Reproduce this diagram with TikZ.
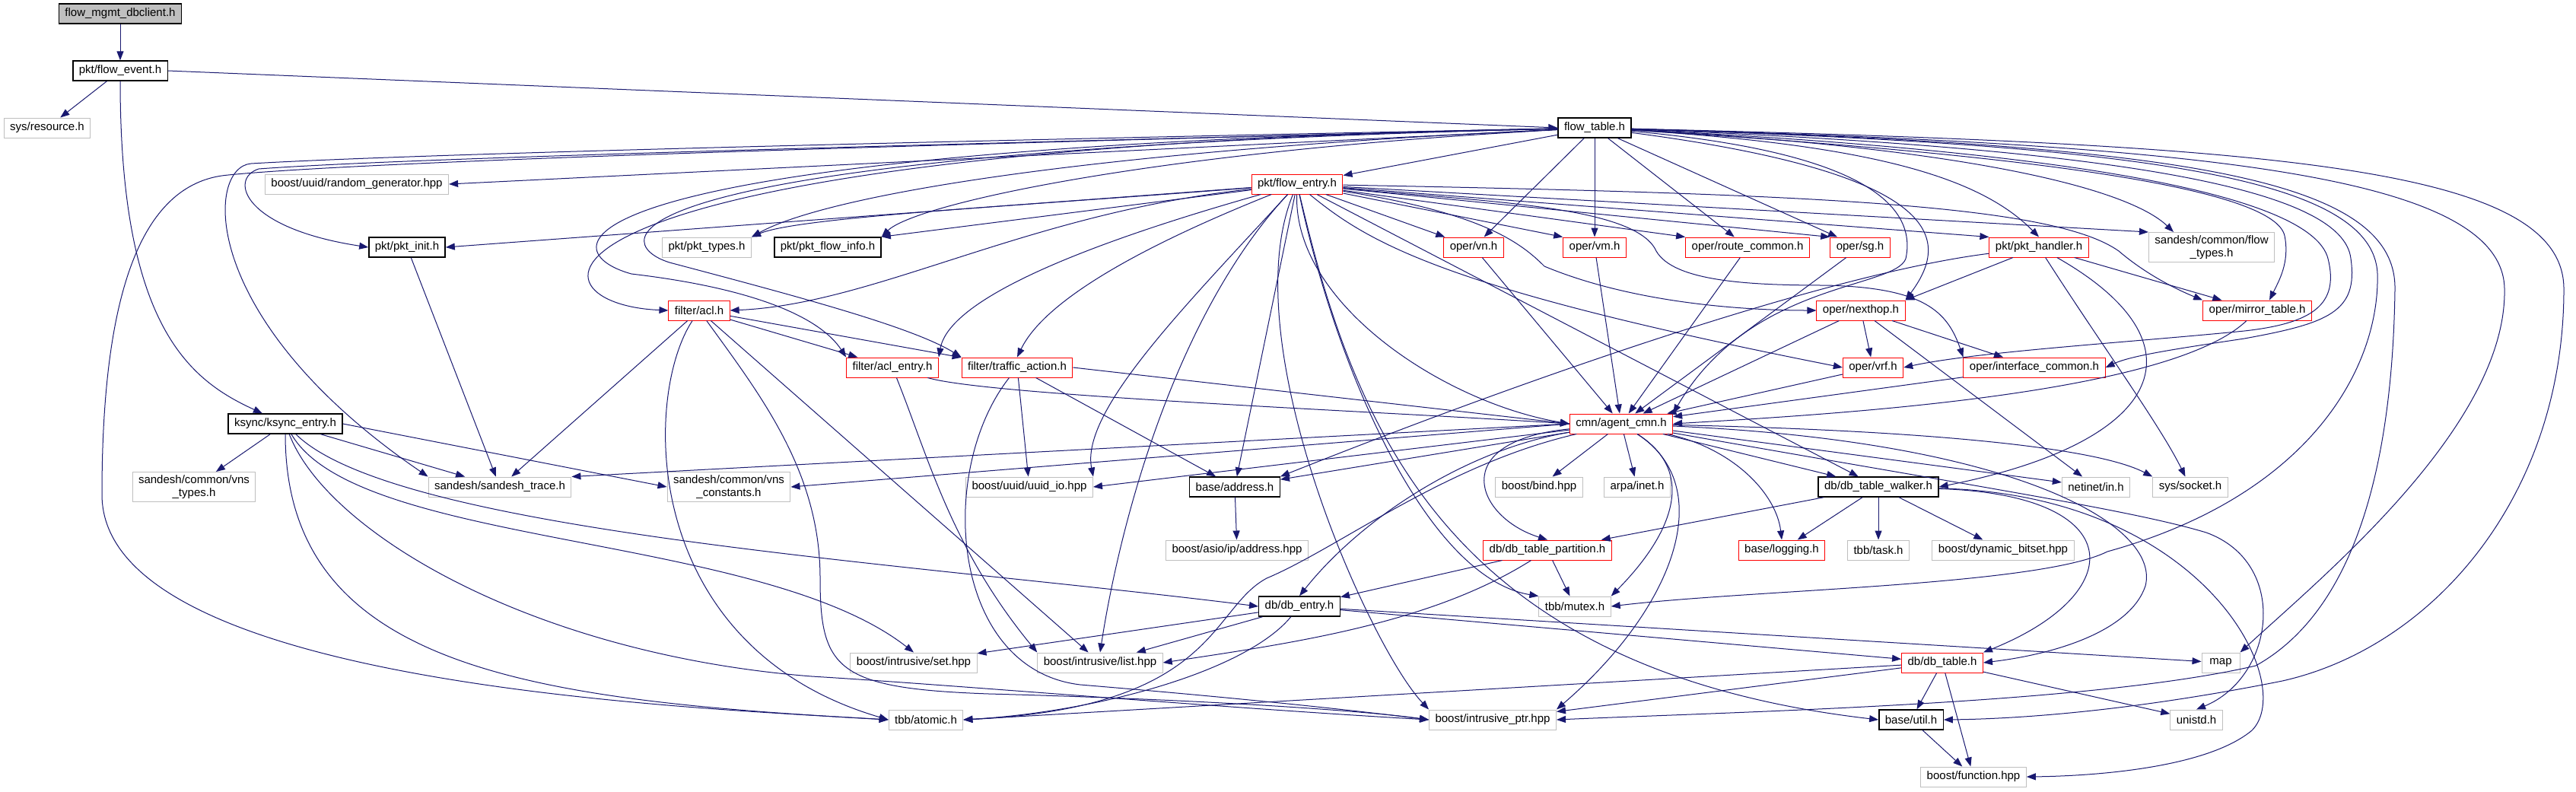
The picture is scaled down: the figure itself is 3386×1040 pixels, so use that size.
\documentclass[tikz,border=0pt]{standalone}
\usepackage{fontspec}
\setmainfont{Liberation Sans}
\usepackage{tikz}
\usetikzlibrary{arrows.meta}

\definecolor{incblue}{HTML}{191970}
\definecolor{extgray}{HTML}{BFBFBF}
\definecolor{truncred}{HTML}{FF0000}

\begin{document}
\begin{tikzpicture}[x=0.5pt, y=-0.5pt,
  hdr/.style={draw, rectangle, inner xsep=4pt, inner ysep=2pt,
    minimum height=13pt, minimum width=25pt, align=center,
    font=\fontsize{7.5}{8.5}\selectfont, line width=0.5pt},
  doc/.style={hdr, draw=black, line width=0.7pt},
  ext/.style={hdr, draw=extgray},
  trunc/.style={hdr, draw=truncred},
  rootbox/.style={hdr, draw=black, fill=extgray, line width=0.7pt},
  inc/.style={-{Triangle[length=6pt,width=4.5pt]}, draw=incblue,
    line width=0.5pt}
]
\path[fill=white, use as bounding box] (0,0) rectangle (3386,1040);

% header nodes, one row at a time
\node[rootbox] (root) at (158,18) {flow\_mgmt\_dbclient.h};
\node[doc] (fevent) at (158,93) {pkt/flow\_event.h};
\node[ext] (sysres) at (62,168) {sys/resource.h};
\node[doc] (ftable) at (2096,168) {flow\_table.h};
\node[ext] (randgen) at (469,242) {boost/uuid/random\_generator.hpp};
\node[trunc] (fentry) at (1705,242) {pkt/flow\_entry.h};
\node[doc] (pktinit) at (535,325) {pkt/pkt\_init.h};
\node[ext] (pkttypes) at (929,325) {pkt/pkt\_types.h};
\node[doc] (flowinfo) at (1088,325) {pkt/pkt\_flow\_info.h};
\node[trunc] (vn) at (1937,325) {oper/vn.h};
\node[trunc] (vm) at (2096,325) {oper/vm.h};
\node[trunc] (routecmn) at (2297,325) {oper/route\_common.h};
\node[trunc] (sg) at (2445,325) {oper/sg.h};
\node[trunc] (pkthandler) at (2680,325) {pkt/pkt\_handler.h};
\node[ext] (flowtypes) at (2907,325) {sandesh/common/flow\\\_types.h};
\node[trunc] (acl) at (919,408) {filter/acl.h};
\node[trunc] (nexthop) at (2446,408) {oper/nexthop.h};
\node[trunc] (mirror) at (2967,408) {oper/mirror\_table.h};
\node[trunc] (aclentry) at (1173,483) {filter/acl\_entry.h};
\node[trunc] (traffic) at (1337,483) {filter/traffic\_action.h};
\node[trunc] (vrf) at (2462,483) {oper/vrf.h};
\node[trunc] (intfcmn) at (2674,483) {oper/interface\_common.h};
\node[doc] (ksync) at (375,557) {ksync/ksync\_entry.h};
\node[trunc] (agentcmn) at (2131,557) {cmn/agent\_cmn.h};
\node[ext] (vnstypes) at (255,640) {sandesh/common/vns\\\_types.h};
\node[ext] (sdtrace) at (657,640) {sandesh/sandesh\_trace.h};
\node[ext] (vnsconst) at (958,640) {sandesh/common/vns\\\_constants.h};
\node[ext] (uuidio) at (1353,640) {boost/uuid/uuid\_io.hpp};
\node[doc] (address) at (1623,640) {base/address.h};
\node[ext] (bind) at (2023,640) {boost/bind.hpp};
\node[ext] (arpa) at (2152,640) {arpa/inet.h};
\node[doc] (walker) at (2469,640) {db/db\_table\_walker.h};
\node[ext] (netinet) at (2755,640) {netinet/in.h};
\node[ext] (socket) at (2879,640) {sys/socket.h};
\node[ext] (asio) at (1626,723) {boost/asio/ip/address.hpp};
\node[trunc] (partition) at (2034,723) {db/db\_table\_partition.h};
\node[trunc] (logging) at (2342,723) {base/logging.h};
\node[ext] (task) at (2469,723) {tbb/task.h};
\node[ext] (bitset) at (2633,723) {boost/dynamic\_bitset.hpp};
\node[doc] (dbentry) at (1708,797) {db/db\_entry.h};
\node[ext] (mutex) at (2070,797) {tbb/mutex.h};
\node[ext] (iset) at (1201,871) {boost/intrusive/set.hpp};
\node[ext] (ilist) at (1446,871) {boost/intrusive/list.hpp};
\node[trunc] (dbtable) at (2553,871) {db/db\_table.h};
\node[ext] (map) at (2919,871) {map};
\node[ext] (atomic) at (1217,946) {tbb/atomic.h};
\node[ext] (iptr) at (1962,946) {boost/intrusive\_ptr.hpp};
\node[doc] (util) at (2512,946) {base/util.h};
\node[ext] (unistd) at (2887,946) {unistd.h};
\node[ext] (function) at (2594,1021) {boost/function.hpp};

% top of the graph
\draw[inc] (root) -- (fevent);
\draw[inc] (fevent) -- (sysres);
\draw[inc] (fevent.east) -- (ftable.west);
\draw[inc] (fevent) .. controls (158,430) and (250,500) .. (ksync);

% flow_table.h, left side
\draw[inc] (ftable) -- (fentry);
\draw[inc] (ftable) -- (randgen.east);
\draw[inc] (ftable) .. controls (1000,195) and (500,210) .. (340,222)
  .. controls (300,235) and (320,300) .. (pktinit.west);
\draw[inc] (ftable) .. controls (1400,200) and (1080,260) .. (pkttypes.north east);
\draw[inc] (ftable) .. controls (1500,200) and (1200,270) .. (flowinfo.north east);
\draw[inc] (ftable) .. controls (640,195) and (680,400) .. (acl.west);
\draw[inc] (ftable) .. controls (700,195) and (720,330) .. (830,360)
  .. controls (1000,380) and (1080,420) .. (aclentry.north west);
\draw[inc] (ftable) .. controls (760,200) and (800,320) .. (880,345)
  .. controls (1050,390) and (1200,430) .. (traffic.north west);
\draw[inc] (ftable) .. controls (1000,190) and (500,205) .. (330,215)
  .. controls (270,220) and (260,420) .. (sdtrace.north west);
\draw[inc] (ftable) .. controls (1000,195) and (450,215) .. (300,230)
  .. controls (180,240) and (134,400) .. (134,650)
  .. controls (134,900) and (900,930) .. (atomic.west);

% flow_table.h, middle and right side
\draw[inc] (ftable) -- (vn);
\draw[inc] (ftable) -- (vm);
\draw[inc] (ftable) -- (routecmn);
\draw[inc] (ftable) -- (sg);
\draw[inc] (ftable) .. controls (2450,190) and (2600,230) .. (pkthandler.north);
\draw[inc] (ftable) .. controls (2600,195) and (2800,250) .. ([xshift=-25pt]flowtypes.north);
\draw[inc] (ftable) .. controls (2700,205) and (2990,250) .. (3003,310)
  .. controls (3010,345) and (2995,370) .. ([xshift=8pt]mirror.north);
\draw[inc] (ftable) .. controls (2570,230) and (2560,320) .. (nexthop.north east);
\draw[inc] (ftable) .. controls (2450,200) and (2520,270) .. (2505,340)
  .. controls (2490,380) and (2300,370) .. (agentcmn.north east);
\draw[inc] (ftable) .. controls (2750,200) and (3040,260) .. (3060,340)
  .. controls (3075,400) and (3040,425) .. (2950,435)
  .. controls (2800,450) and (2600,462) .. (vrf.east);
\draw[inc] (ftable) .. controls (2800,195) and (3080,250) .. (3090,340)
  .. controls (3100,410) and (3060,425) .. (2950,445)
  .. controls (2850,460) and (2800,468) .. (intfcmn.east);
\draw[inc] (ftable) .. controls (2800,190) and (3120,230) .. (3125,360)
  .. controls (3128,480) and (3040,650) .. (2770,725)
  .. controls (2680,770) and (2300,775) .. (mutex.east);
\draw[inc] (ftable) .. controls (2850,190) and (3150,230) .. (3148,380)
  .. controls (3145,600) and (3100,800) .. (2965,875)
  .. controls (2750,925) and (2300,935) .. (iptr.east);
\draw[inc] (ftable) .. controls (2900,190) and (3290,230) .. (3292,380)
  .. controls (3295,560) and (3050,760) .. (map.north east);
\draw[inc] (ftable) .. controls (3000,190) and (3370,220) .. (3370,380)
  .. controls (3370,650) and (3200,850) .. (3000,895)
  .. controls (2800,935) and (2650,945) .. (util.east);

% pkt/flow_entry.h
\draw[inc] (fentry) -- (pktinit.east);
\draw[inc] (fentry) .. controls (1350,270) and (1050,285) .. (pkttypes.north east);
\draw[inc] (fentry) -- (flowinfo.north east);
\draw[inc] (fentry) .. controls (1350,280) and (1150,400) .. (acl.east);
\draw[inc] (fentry) .. controls (1500,300) and (1250,380) .. (aclentry.north east);
\draw[inc] (fentry) .. controls (1560,300) and (1380,380) .. (traffic.north);
\draw[inc] (fentry) -- (vn);
\draw[inc] (fentry) -- (vm.north west);
\draw[inc] (fentry) -- (routecmn.north west);
\draw[inc] (fentry) -- (sg.north west);
\draw[inc] (fentry) -- (pkthandler.north west);
\draw[inc] (fentry) -- (flowtypes.north west);
\draw[inc] (fentry) .. controls (2400,255) and (2700,270) .. (2785,330)
  .. controls (2820,360) and (2860,380) .. (mirror.north west);
\draw[inc] (fentry) .. controls (1950,280) and (2000,320) .. (2030,350)
  .. controls (2150,400) and (2300,408) .. (nexthop.west);
\draw[inc] (fentry) .. controls (1800,320) and (1900,380) .. (vrf.west);
\draw[inc] (fentry) .. controls (1950,265) and (2150,270) .. (2177,330)
  .. controls (2200,370) and (2300,375) .. (2400,375)
  .. controls (2530,378) and (2560,410) .. (intfcmn.north west);
\draw[inc] (fentry) .. controls (1700,400) and (1900,530) .. (agentcmn.west);
\draw[inc] (fentry) -- (walker);
\draw[inc] (fentry) .. controls (1560,400) and (1420,540) .. (uuidio.north east);
\draw[inc] (fentry) -- (address);
\draw[inc] (fentry) .. controls (1540,420) and (1470,700) .. (ilist.north);
\draw[inc] (fentry) .. controls (1620,450) and (1800,850) .. (iptr.north west);
\draw[inc] (fentry) .. controls (1780,560) and (1900,880) .. (util.west);
\draw[inc] (fentry) .. controls (1760,500) and (1880,760) .. (mutex.north west);

% filters and pkt_init
\draw[inc] (pktinit) -- (sdtrace);
\draw[inc] (acl) -- (aclentry);
\draw[inc] (acl) -- (traffic);
\draw[inc] (acl) -- (sdtrace);
\draw[inc] (acl) -- (ilist);
\draw[inc] (acl) .. controls (845,520) and (840,850) .. (atomic.west);
\draw[inc] (acl) .. controls (1000,520) and (1078,620) .. (1078,760)
  .. controls (1078,880) and (1100,905) .. (1300,912)
  .. controls (1600,920) and (1800,935) .. (iptr.west);
\draw[inc] (aclentry) .. controls (1220,600) and (1250,720) .. (ilist.north west);
\draw[inc] (aclentry) .. controls (1300,520) and (1800,540) .. (agentcmn.west);
\draw[inc] (traffic.east) -- (agentcmn.west);
\draw[inc] (traffic) -- (uuidio);
\draw[inc] (traffic) -- (address);
\draw[inc] (traffic) .. controls (1230,620) and (1250,880) .. (1420,900)
  .. controls (1600,915) and (1750,930) .. (iptr.west);

% oper headers
\draw[inc] (vn) -- (agentcmn);
\draw[inc] (vm) -- (agentcmn);
\draw[inc] (routecmn) -- (agentcmn);
\draw[inc] (sg) -- (agentcmn);
\draw[inc] (nexthop) -- (agentcmn);
\draw[inc] (nexthop) -- (vrf);
\draw[inc] (nexthop) -- (intfcmn);
\draw[inc] (nexthop) -- (netinet);
\draw[inc] (vrf) -- (agentcmn);
\draw[inc] (intfcmn) -- (agentcmn);
\draw[inc] (mirror) .. controls (2850,520) and (2400,545) .. (agentcmn.east);
\draw[inc] (pkthandler) -- (nexthop.north east);
\draw[inc] (pkthandler) -- (mirror);
\draw[inc] (pkthandler) .. controls (2400,360) and (2000,500) .. (address.north east);
\draw[inc] (pkthandler) .. controls (2760,450) and (2840,560) .. (socket);
\draw[inc] (pkthandler) .. controls (2900,450) and (2850,580) .. (walker.east);

% ksync/ksync_entry.h
\draw[inc] (ksync) -- (vnstypes);
\draw[inc] (ksync) -- (sdtrace);
\draw[inc] (ksync.east) -- (vnsconst.west);
\draw[inc] (ksync) .. controls (520,700) and (1200,740) .. (dbentry.west);
\draw[inc] (ksync) .. controls (470,720) and (1000,700) .. (iset.north);
\draw[inc] (ksync) .. controls (375,880) and (700,920) .. (atomic.west);
\draw[inc] (ksync) .. controls (430,700) and (700,860) .. (1067,889)
  .. controls (1250,900) and (1600,930) .. (iptr.west);

% cmn/agent_cmn.h
\draw[inc] (agentcmn.west) -- (sdtrace.north east);
\draw[inc] (agentcmn.west) -- (vnsconst.east);
\draw[inc] (agentcmn) -- (uuidio.east);
\draw[inc] (agentcmn) -- (address);
\draw[inc] (agentcmn) -- (bind);
\draw[inc] (agentcmn) -- (arpa);
\draw[inc] (agentcmn) -- (walker);
\draw[inc] (agentcmn) -- (netinet);
\draw[inc] (agentcmn) .. controls (2500,565) and (2750,585) .. (socket.north west);
\draw[inc] (agentcmn) .. controls (1900,580) and (1940,680) .. (partition.north);
\draw[inc] (agentcmn) .. controls (2280,590) and (2335,650) .. (logging.north);
\draw[inc] (agentcmn) .. controls (2230,620) and (2200,700) .. (mutex.north east);
\draw[inc] (agentcmn) .. controls (1930,590) and (1790,680) .. (dbentry.north);
\draw[inc] (agentcmn) .. controls (2650,580) and (2840,690) .. (2820,770)
  .. controls (2800,830) and (2700,860) .. (dbtable.east);
\draw[inc] (agentcmn) .. controls (2260,640) and (2200,800) .. (iptr.north east);
\draw[inc] (agentcmn) .. controls (1900,610) and (1760,720) .. (1665,760)
  .. controls (1590,800) and (1600,930) .. (atomic.east);
\draw[inc] (agentcmn) .. controls (2600,640) and (2800,670) .. (2900,700)
  .. controls (3010,740) and (2990,890) .. (unistd.north);

% db headers
\draw[inc] (walker) -- (partition);
\draw[inc] (walker) -- (logging);
\draw[inc] (walker) -- (task);
\draw[inc] (walker) -- (bitset);
\draw[inc] (walker) .. controls (2800,650) and (2800,780) .. (dbtable.north east);
\draw[inc] (walker) .. controls (2900,650) and (3020,900) .. (2960,960)
  .. controls (2900,1010) and (2750,1020) .. (function.east);
\draw[inc] (partition) -- (dbentry);
\draw[inc] (partition) -- (mutex);
\draw[inc] (partition) .. controls (1880,820) and (1700,845) .. (ilist.east);
\draw[inc] (dbentry) -- (iset);
\draw[inc] (dbentry) -- (ilist);
\draw[inc] (dbentry) .. controls (1640,880) and (1450,935) .. (atomic.east);
\draw[inc] (dbentry) -- (dbtable);
\draw[inc] (dbentry) -- (map);
\draw[inc] (dbtable) -- (atomic.east);
\draw[inc] (dbtable) -- (iptr);
\draw[inc] (dbtable) -- (util);
\draw[inc] (dbtable) -- (unistd);
\draw[inc] (dbtable) -- (function);
\draw[inc] (util) -- (function);
\draw[inc] (address) -- (asio);
\end{tikzpicture}
\end{document}
